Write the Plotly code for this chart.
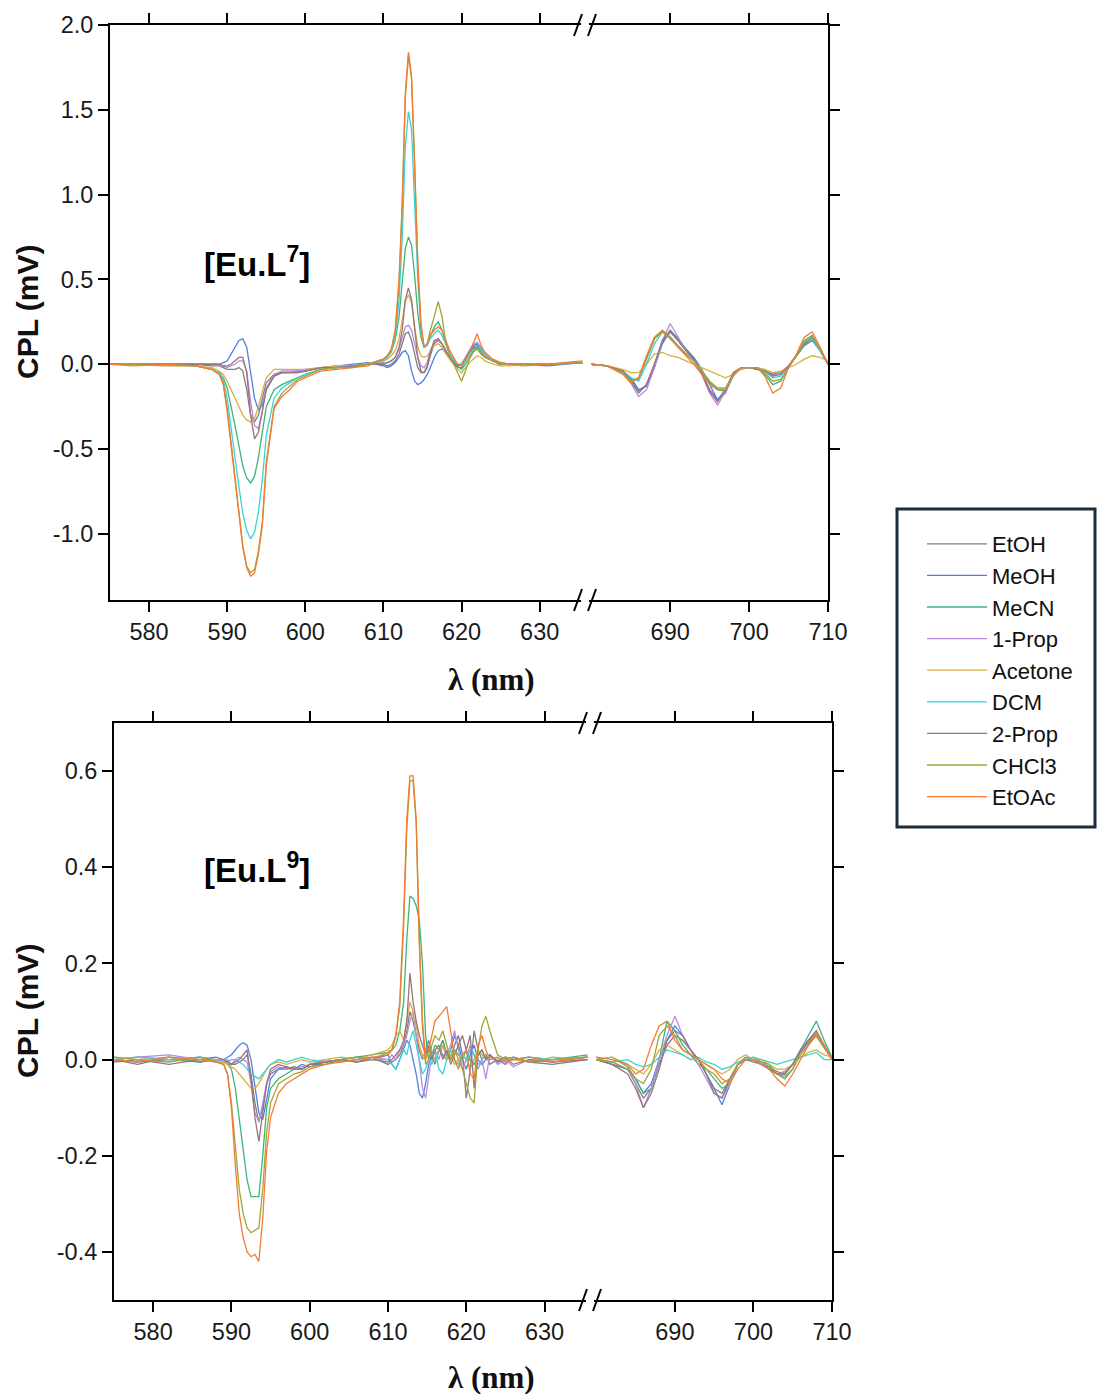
import plotly.graph_objects as go

# ---------------------------------------------------------------------------
# Wavelength grids (nm): 5D0->7F1 / 7F2 region and 5D0->7F4 region
# ---------------------------------------------------------------------------
wl_vis = [575, 578, 582, 586, 588, 589, 589.5, 590, 590.5, 591,
          591.5, 592, 592.5, 593, 593.5, 594, 594.5, 595, 596, 597,
          598, 599, 600, 602, 604, 606, 608, 610, 610.5, 611,
          611.5, 612, 612.4, 612.8, 613.2, 613.6, 614, 614.4, 614.8, 615.2,
          615.6, 616, 616.5, 617, 617.5, 618, 618.5, 619, 619.5, 620,
          620.5, 621, 621.5, 622, 622.5, 623, 624, 625, 626, 628,
          631, 635.5]
wl_red = [680, 682, 684, 685, 686, 687, 688, 689, 690, 691,
          692, 693, 694, 695, 696, 697, 698, 699, 700, 701,
          702, 703, 704, 705, 706, 707, 708, 709, 710]

solvents = ["EtOH", "MeOH", "MeCN", "1-Prop", "Acetone", "DCM", "2-Prop", "CHCl3", "EtOAc"]
colors = ["#7f7f7f", "#4f81e0", "#3cb47a", "#b98ae0", "#d9b040",
          "#3dd2d6", "#9b7378", "#a3a533", "#f57b35"]

# ---------------------------------------------------------------------------
# [Eu.L7] CPL (mV)
# ---------------------------------------------------------------------------
L7_EtOH_vis = [0.0, 0.0, 0.0, 0.0, -0.01, -0.01, -0.02, -0.03, -0.03, -0.03,
               -0.02, -0.04, -0.15, -0.3, -0.34, -0.3, -0.2, -0.11, -0.06, -0.05,
               -0.05, -0.05, -0.04, -0.02, -0.02, -0.01, 0.0, 0.0, -0.01, 0.0,
               0.02, 0.06, 0.12, 0.18, 0.19, 0.14, 0.06, -0.02, -0.05, -0.05,
               -0.02, 0.05, 0.12, 0.14, 0.12, 0.08, 0.04, 0.01, -0.02, -0.02,
               0.02, 0.06, 0.1, 0.11, 0.08, 0.05, 0.02, 0.0, 0.0, 0.0,
               0.0, 0.01]
L7_MeOH_vis = [0.0, 0.0, 0.0, 0.0, 0.0, 0.0, 0.01, 0.02, 0.06, 0.1,
               0.14, 0.15, 0.1, -0.05, -0.2, -0.27, -0.24, -0.15, -0.07, -0.05,
               -0.05, -0.04, -0.04, -0.02, -0.01, 0.0, 0.01, -0.01, -0.02, -0.01,
               0.01, 0.04, 0.07, 0.08, 0.05, -0.04, -0.1, -0.12, -0.11, -0.09,
               -0.06, -0.02, 0.04, 0.08, 0.09, 0.07, 0.04, 0.01, -0.01, 0.0,
               0.04, 0.08, 0.11, 0.12, 0.09, 0.05, 0.02, 0.0, 0.0, 0.0,
               -0.01, 0.01]
L7_MeCN_vis = [0.0, 0.0, 0.0, -0.01, -0.03, -0.05, -0.08, -0.14, -0.24, -0.36,
               -0.48, -0.6, -0.67, -0.7, -0.66, -0.55, -0.4, -0.25, -0.15, -0.12,
               -0.1, -0.08, -0.06, -0.03, -0.02, -0.01, 0.0, 0.03, 0.05, 0.08,
               0.14, 0.28, 0.46, 0.68, 0.75, 0.7, 0.52, 0.3, 0.16, 0.1,
               0.12, 0.17, 0.22, 0.25, 0.2, 0.12, 0.06, 0.02, -0.01, -0.03,
               0.0, 0.04, 0.08, 0.1, 0.08, 0.05, 0.02, 0.01, 0.0, 0.0,
               0.0, 0.01]
L7_1Prop_vis = [0.0, 0.0, 0.0, 0.0, 0.0, -0.01, -0.01, -0.02, -0.01, 0.0,
                0.02, 0.02, -0.04, -0.22, -0.36, -0.38, -0.28, -0.14, -0.06, -0.04,
                -0.04, -0.04, -0.03, -0.02, -0.01, -0.01, 0.0, 0.01, 0.01, 0.02,
                0.04, 0.09, 0.16, 0.22, 0.23, 0.2, 0.12, 0.04, -0.01, -0.02,
                0.01, 0.08, 0.13, 0.15, 0.12, 0.07, 0.03, 0.0, -0.01, 0.0,
                0.04, 0.08, 0.12, 0.13, 0.1, 0.06, 0.02, 0.0, 0.0, 0.0,
                0.0, 0.01]
L7_Acetone_vis = [0.0, 0.0, 0.0, -0.01, -0.02, -0.04, -0.06, -0.1, -0.15, -0.2,
                  -0.25, -0.3, -0.33, -0.34, -0.32, -0.25, -0.16, -0.08, -0.03, -0.03,
                  -0.03, -0.03, -0.03, -0.02, -0.01, -0.01, 0.0, 0.02, 0.03, 0.05,
                  0.08, 0.15, 0.25, 0.37, 0.41, 0.36, 0.22, 0.1, 0.05, 0.04,
                  0.05, 0.08, 0.11, 0.12, 0.1, 0.06, 0.03, 0.0, -0.03, -0.05,
                  -0.02, 0.01, 0.03, 0.05, 0.04, 0.02, 0.0, -0.01, -0.01, 0.0,
                  0.0, 0.01]
L7_DCM_vis = [0.0, 0.0, 0.0, -0.01, -0.03, -0.05, -0.09, -0.2, -0.36, -0.55,
              -0.72, -0.88, -0.98, -1.03, -0.99, -0.87, -0.68, -0.42, -0.2, -0.14,
              -0.11, -0.08, -0.06, -0.03, -0.02, -0.01, 0.0, 0.02, 0.04, 0.07,
              0.15, 0.38, 0.74, 1.28, 1.49, 1.38, 0.98, 0.5, 0.2, 0.1,
              0.11, 0.15, 0.18, 0.2, 0.17, 0.11, 0.06, 0.03, 0.0, -0.01,
              0.02, 0.06, 0.09, 0.11, 0.09, 0.05, 0.02, 0.01, 0.0, 0.0,
              0.0, 0.01]
L7_2Prop_vis = [0.0, 0.0, 0.0, 0.0, 0.0, 0.0, -0.01, -0.01, 0.0, 0.02,
                0.04, 0.04, -0.05, -0.3, -0.44, -0.4, -0.28, -0.15, -0.07, -0.05,
                -0.05, -0.05, -0.04, -0.02, -0.02, -0.01, 0.0, 0.01, 0.01, 0.02,
                0.04, 0.1, 0.2, 0.38, 0.45, 0.38, 0.2, 0.04, -0.04, -0.05,
                -0.01, 0.07, 0.14, 0.15, 0.12, 0.08, 0.04, 0.0, -0.01, 0.0,
                0.03, 0.07, 0.1, 0.09, 0.06, 0.04, 0.02, 0.0, 0.0, 0.0,
                0.0, 0.01]
L7_CHCl3_vis = [0.0, 0.0, -0.01, -0.01, -0.03, -0.06, -0.11, -0.26, -0.46, -0.68,
                -0.87, -1.07, -1.19, -1.23, -1.21, -1.1, -0.93, -0.58, -0.25, -0.17,
                -0.13, -0.09, -0.07, -0.03, -0.02, -0.02, 0.0, 0.03, 0.05, 0.08,
                0.18, 0.48, 0.92, 1.57, 1.82, 1.68, 1.18, 0.58, 0.22, 0.1,
                0.12, 0.2, 0.28, 0.37, 0.28, 0.12, 0.05, 0.0, -0.05, -0.1,
                -0.04, 0.03, 0.07, 0.09, 0.07, 0.04, 0.02, 0.0, 0.0, 0.0,
                0.0, 0.01]
L7_EtOAc_vis = [0.0, -0.01, 0.0, -0.01, -0.03, -0.06, -0.12, -0.28, -0.48, -0.7,
                -0.88, -1.08, -1.2, -1.25, -1.23, -1.12, -0.95, -0.6, -0.26, -0.19,
                -0.15, -0.1, -0.08, -0.04, -0.03, -0.02, -0.01, 0.03, 0.05, 0.09,
                0.2, 0.5, 0.95, 1.6, 1.84, 1.7, 1.2, 0.6, 0.25, 0.1,
                0.12, 0.17, 0.2, 0.22, 0.2, 0.14, 0.08, 0.04, 0.0, 0.0,
                0.03, 0.07, 0.12, 0.18, 0.11, 0.07, 0.03, 0.01, 0.0, -0.01,
                0.0, 0.02]

L7_EtOH_red = [0.0, -0.01, -0.04, -0.09, -0.16, -0.12, 0.0, 0.13, 0.19, 0.14,
               0.08, 0.03, -0.05, -0.15, -0.21, -0.15, -0.05, -0.02, -0.02, -0.03,
               -0.04, -0.06, -0.05, -0.01, 0.05, 0.12, 0.15, 0.08, 0.0]
L7_MeOH_red = [0.0, -0.01, -0.04, -0.08, -0.15, -0.13, -0.02, 0.12, 0.2, 0.15,
               0.09, 0.04, -0.03, -0.12, -0.21, -0.17, -0.06, -0.02, -0.02, -0.02,
               -0.04, -0.06, -0.05, -0.01, 0.05, 0.11, 0.14, 0.08, 0.0]
L7_MeCN_red = [0.0, -0.01, -0.05, -0.1, -0.09, 0.03, 0.15, 0.2, 0.16, 0.11,
               0.06, 0.02, -0.05, -0.11, -0.15, -0.16, -0.07, -0.02, -0.02, -0.02,
               -0.06, -0.12, -0.1, -0.02, 0.05, 0.14, 0.17, 0.09, 0.0]
L7_1Prop_red = [0.0, -0.01, -0.05, -0.11, -0.19, -0.15, -0.02, 0.14, 0.24, 0.16,
                0.08, 0.02, -0.06, -0.17, -0.24, -0.16, -0.05, -0.02, -0.02, -0.03,
                -0.04, -0.07, -0.05, -0.01, 0.05, 0.12, 0.16, 0.09, 0.0]
L7_Acetone_red = [0.0, -0.01, -0.03, -0.05, -0.05, 0.0, 0.06, 0.07, 0.05, 0.04,
                  0.02, 0.0, -0.02, -0.04, -0.06, -0.08, -0.06, -0.03, -0.02, -0.02,
                  -0.03, -0.05, -0.04, -0.02, 0.0, 0.03, 0.05, 0.04, 0.02]
L7_DCM_red = [0.0, -0.01, -0.04, -0.08, -0.1, 0.0, 0.12, 0.19, 0.16, 0.11,
              0.06, 0.02, -0.04, -0.1, -0.15, -0.15, -0.06, -0.02, -0.02, -0.02,
              -0.04, -0.08, -0.07, -0.01, 0.05, 0.12, 0.15, 0.08, 0.0]
L7_2Prop_red = [0.0, -0.01, -0.04, -0.1, -0.17, -0.12, 0.0, 0.14, 0.2, 0.14,
                0.08, 0.03, -0.05, -0.16, -0.22, -0.15, -0.05, -0.02, -0.02, -0.03,
                -0.04, -0.07, -0.06, -0.01, 0.05, 0.12, 0.16, 0.09, 0.0]
L7_CHCl3_red = [0.0, -0.01, -0.05, -0.1, -0.08, 0.04, 0.15, 0.19, 0.15, 0.1,
                0.06, 0.02, -0.04, -0.1, -0.14, -0.14, -0.06, -0.02, -0.02, -0.02,
                -0.05, -0.1, -0.09, -0.02, 0.05, 0.13, 0.16, 0.09, 0.0]
L7_EtOAc_red = [0.0, -0.01, -0.06, -0.11, -0.08, 0.05, 0.16, 0.2, 0.16, 0.1,
                0.05, 0.0, -0.06, -0.12, -0.15, -0.15, -0.06, -0.02, -0.02, -0.02,
                -0.07, -0.17, -0.14, -0.02, 0.06, 0.16, 0.19, 0.1, 0.0]

# ---------------------------------------------------------------------------
# [Eu.L9] CPL (mV)
# ---------------------------------------------------------------------------
L9_EtOH_vis = [0.0, -0.01, 0.005, -0.005, 0.0, 0.0, -0.01, -0.01, -0.01, -0.005,
               0.0, 0.01, -0.03, -0.09, -0.13, -0.1, -0.05, -0.03, -0.02, -0.02,
               -0.015, -0.02, -0.01, -0.01, 0.0, -0.005, 0.005, -0.01, -0.005, 0.0,
               0.01, 0.03, 0.06, 0.1, 0.08, 0.05, 0.02, 0.0, 0.02, 0.04,
               0.01, -0.01, 0.02, 0.04, 0.01, 0.0, 0.03, 0.05, 0.01, -0.08,
               -0.02, 0.06, 0.02, 0.0, 0.01, -0.01, 0.0, -0.01, 0.005, -0.005,
               -0.01, 0.0]
L9_MeOH_vis = [0.0, -0.005, 0.0, 0.005, 0.0, 0.0, 0.005, 0.01, 0.02, 0.03,
               0.035, 0.03, 0.0, -0.06, -0.11, -0.125, -0.08, -0.04, -0.02, -0.015,
               -0.02, -0.01, -0.015, -0.005, 0.0, 0.005, 0.0, 0.01, -0.01, -0.02,
               0.0, 0.02, 0.04, 0.03, 0.0, -0.03, -0.07, -0.08, -0.05, -0.01,
               0.01, 0.0, 0.02, 0.01, 0.0, 0.02, 0.05, 0.03, 0.0, -0.02,
               0.01, 0.03, 0.0, -0.01, 0.0, 0.01, -0.005, 0.0, 0.005, -0.005,
               0.0, 0.005]
L9_MeCN_vis = [0.0, 0.005, 0.0, -0.005, 0.0, -0.005, -0.01, -0.02, -0.06, -0.12,
               -0.18, -0.25, -0.285, -0.285, -0.285, -0.2, -0.1, -0.06, -0.04, -0.03,
               -0.02, -0.02, -0.01, -0.005, 0.0, 0.005, 0.01, 0.015, 0.02, 0.03,
               0.06, 0.12, 0.25, 0.34, 0.335, 0.32, 0.29, 0.2, 0.05, 0.0,
               0.01, 0.03, 0.02, 0.04, 0.01, 0.0, 0.02, 0.01, 0.0, 0.02,
               0.0, -0.01, 0.01, 0.02, 0.0, 0.01, -0.005, 0.005, 0.0, 0.005,
               0.0, 0.01]
L9_1Prop_vis = [0.0, 0.005, 0.01, 0.0, 0.0, -0.005, 0.0, -0.01, 0.0, 0.005,
                0.0, -0.005, -0.05, -0.11, -0.13, -0.09, -0.05, -0.025, -0.015, -0.02,
                -0.02, -0.015, -0.01, 0.0, -0.005, 0.0, 0.005, 0.0, 0.01, 0.0,
                0.02, 0.03, 0.05, 0.08, 0.1, 0.05, 0.0, -0.06, -0.08, -0.03,
                0.01, 0.02, 0.0, 0.03, 0.01, 0.03, 0.06, 0.02, -0.02, 0.0,
                0.03, 0.01, -0.02, 0.0, -0.04, 0.01, -0.01, 0.0, -0.015, 0.0,
                -0.005, 0.005]
L9_Acetone_vis = [0.005, 0.0, 0.005, 0.0, -0.005, -0.005, -0.01, -0.015, -0.02, -0.03,
                  -0.04, -0.05, -0.06, -0.06, -0.05, -0.035, -0.02, -0.01, -0.005, -0.01,
                  -0.005, 0.0, -0.005, 0.0, 0.005, 0.0, 0.01, 0.02, 0.03, 0.05,
                  0.06, 0.04, 0.08, 0.12, 0.1, 0.07, 0.03, 0.01, 0.0, 0.02,
                  0.01, 0.0, 0.02, 0.03, 0.0, 0.01, -0.01, 0.0, 0.01, 0.0,
                  -0.02, 0.0, 0.02, 0.01, 0.0, 0.005, 0.0, 0.005, 0.0, -0.005,
                  0.005, 0.0]
L9_DCM_vis = [0.0, 0.005, 0.0, 0.005, 0.0, 0.0, -0.005, 0.0, 0.0, -0.005,
              -0.01, -0.02, -0.03, -0.035, -0.04, -0.03, -0.02, -0.01, 0.0, -0.005,
              0.0, 0.005, 0.0, -0.005, 0.0, 0.005, 0.0, 0.0, -0.01, -0.02,
              0.0, 0.02, 0.01, 0.04, 0.06, 0.03, 0.0, -0.03, -0.02, 0.0,
              -0.01, 0.02, -0.02, -0.03, 0.0, 0.02, 0.0, -0.01, 0.01, 0.0,
              0.02, 0.01, -0.01, 0.0, 0.01, 0.0, 0.005, -0.005, 0.0, 0.005,
              0.0, 0.005]
L9_2Prop_vis = [-0.005, 0.0, -0.01, 0.0, 0.005, 0.0, -0.005, -0.01, -0.005, 0.0,
                0.01, 0.02, -0.04, -0.12, -0.17, -0.11, -0.05, -0.02, -0.01, -0.015,
                -0.02, -0.02, -0.01, -0.005, 0.0, -0.005, 0.0, -0.005, 0.0, 0.01,
                0.02, 0.04, 0.08, 0.18, 0.12, 0.08, 0.05, 0.03, 0.01, 0.03,
                0.0, 0.02, 0.03, 0.0, 0.02, -0.01, 0.01, 0.03, 0.05, 0.02,
                0.05, -0.06, 0.01, 0.02, 0.0, 0.01, -0.005, 0.005, -0.01, 0.0,
                -0.005, 0.0]
L9_CHCl3_vis = [0.005, 0.0, -0.005, 0.005, -0.005, -0.01, -0.03, -0.09, -0.18, -0.27,
                -0.32, -0.35, -0.36, -0.355, -0.35, -0.27, -0.15, -0.09, -0.05, -0.04,
                -0.03, -0.025, -0.015, -0.01, 0.0, 0.005, 0.0, 0.015, 0.02, 0.05,
                0.11, 0.28, 0.48, 0.58, 0.58, 0.49, 0.24, 0.07, -0.01, 0.0,
                0.03, 0.05, 0.04, 0.06, 0.03, 0.0, 0.02, 0.0, -0.02, -0.05,
                -0.08, -0.09, 0.02, 0.07, 0.09, 0.06, 0.01, 0.0, 0.005, -0.005,
                0.0, 0.005]
L9_EtOAc_vis = [0.0, -0.005, 0.005, 0.0, -0.005, -0.01, -0.03, -0.1, -0.22, -0.32,
                -0.37, -0.4, -0.41, -0.405, -0.42, -0.33, -0.19, -0.12, -0.07, -0.05,
                -0.04, -0.03, -0.02, -0.01, -0.005, 0.0, 0.005, 0.01, 0.02, 0.05,
                0.12, 0.3, 0.5, 0.59, 0.59, 0.5, 0.25, 0.08, 0.0, 0.02,
                0.05, 0.08, 0.09, 0.1, 0.11, 0.06, 0.0, -0.02, 0.01, 0.02,
                -0.03, -0.04, 0.03, 0.05, 0.02, 0.0, 0.005, -0.005, 0.0, 0.005,
                -0.005, 0.005]

L9_EtOH_red = [0.005, -0.01, -0.02, -0.05, -0.08, -0.06, -0.01, 0.03, 0.05, 0.04,
               0.02, 0.0, -0.03, -0.06, -0.07, -0.04, -0.01, 0.005, 0.0, -0.01,
               -0.015, -0.025, -0.03, -0.01, 0.015, 0.035, 0.05, 0.025, 0.0]
L9_MeOH_red = [0.0, -0.01, -0.02, -0.04, -0.07, -0.05, 0.0, 0.04, 0.07, 0.05,
               0.02, 0.0, -0.03, -0.06, -0.094, -0.05, -0.01, 0.0, 0.0, -0.01,
               -0.02, -0.03, -0.025, -0.01, 0.02, 0.04, 0.05, 0.03, 0.0]
L9_MeCN_red = [0.0, 0.005, -0.015, -0.04, -0.07, -0.06, 0.0, 0.08, 0.06, 0.03,
               0.01, -0.01, -0.02, -0.04, -0.06, -0.05, -0.01, 0.0, 0.005, -0.005,
               -0.015, -0.03, -0.04, -0.02, 0.02, 0.05, 0.08, 0.04, 0.005]
L9_1Prop_red = [0.0, -0.005, -0.02, -0.05, -0.1, -0.06, 0.0, 0.05, 0.09, 0.05,
                0.02, -0.01, -0.04, -0.07, -0.08, -0.05, -0.01, 0.0, 0.0, -0.005,
                -0.02, -0.03, -0.025, -0.01, 0.02, 0.04, 0.055, 0.03, 0.0]
L9_Acetone_red = [0.0, 0.005, -0.01, -0.02, -0.03, -0.01, 0.02, 0.03, 0.02, 0.01,
                  0.0, 0.0, -0.01, -0.02, -0.03, -0.02, 0.0, 0.01, 0.0, 0.0,
                  -0.01, -0.02, -0.02, -0.01, 0.005, 0.015, 0.02, 0.01, 0.005]
L9_DCM_red = [0.0, -0.005, 0.0, -0.01, -0.015, -0.01, 0.005, 0.02, 0.015, 0.01,
              0.0, 0.005, -0.005, -0.01, -0.02, -0.015, -0.005, 0.0, 0.005, 0.0,
              -0.005, -0.01, -0.005, 0.0, 0.005, 0.01, 0.015, 0.0, 0.0]
L9_2Prop_red = [0.0, -0.01, -0.03, -0.06, -0.1, -0.07, -0.02, 0.04, 0.06, 0.05,
                0.02, 0.0, -0.03, -0.07, -0.08, -0.04, -0.01, 0.0, -0.005, -0.01,
                -0.02, -0.03, -0.03, -0.01, 0.02, 0.04, 0.06, 0.03, 0.0]
L9_CHCl3_red = [0.0, -0.005, -0.02, -0.04, -0.05, -0.02, 0.05, 0.07, 0.05, 0.02,
                0.01, 0.0, -0.02, -0.03, -0.05, -0.04, -0.01, 0.0, 0.0, -0.005,
                -0.01, -0.03, -0.035, -0.02, 0.01, 0.03, 0.05, 0.025, 0.005]
L9_EtOAc_red = [0.005, 0.0, -0.01, -0.03, -0.02, 0.03, 0.07, 0.08, 0.04, 0.02,
                0.01, 0.0, -0.01, -0.02, -0.04, -0.05, -0.02, 0.0, 0.0, -0.01,
                -0.02, -0.04, -0.055, -0.03, 0.0, 0.03, 0.055, 0.03, 0.0]

L7_vis = [L7_EtOH_vis, L7_MeOH_vis, L7_MeCN_vis, L7_1Prop_vis, L7_Acetone_vis,
          L7_DCM_vis, L7_2Prop_vis, L7_CHCl3_vis, L7_EtOAc_vis]
L7_red = [L7_EtOH_red, L7_MeOH_red, L7_MeCN_red, L7_1Prop_red, L7_Acetone_red,
          L7_DCM_red, L7_2Prop_red, L7_CHCl3_red, L7_EtOAc_red]
L9_vis = [L9_EtOH_vis, L9_MeOH_vis, L9_MeCN_vis, L9_1Prop_vis, L9_Acetone_vis,
          L9_DCM_vis, L9_2Prop_vis, L9_CHCl3_vis, L9_EtOAc_vis]
L9_red = [L9_EtOH_red, L9_MeOH_red, L9_MeCN_red, L9_1Prop_red, L9_Acetone_red,
          L9_DCM_red, L9_2Prop_red, L9_CHCl3_red, L9_EtOAc_red]

# tick values / labels
x_ticks_vis = [580, 590, 600, 610, 620, 630]
x_ticks_red = [690, 700, 710]
y7_ticks = [-1.0, -0.5, 0.0, 0.5, 1.0, 1.5, 2.0]
y7_labels = ["-1.0", "-0.5", "0.0", "0.5", "1.0", "1.5", "2.0"]
y9_ticks = [-0.4, -0.2, 0.0, 0.2, 0.4, 0.6]
y9_labels = ["-0.4", "-0.2", "0.0", "0.2", "0.4", "0.6"]

# ---------------------------------------------------------------------------
# Figure geometry (pixels on a 1100 x 1394 canvas)
# ---------------------------------------------------------------------------
W, H = 1100, 1394
def px(x):
    return x / W
def py(y):
    return 1 - y / H

panels = [
    # axis ids, pixel box (left, break, right, top, bottom), data, y ticks
    dict(xa="x", xb="x2", ya="y", yb="y2", box=(110, 585, 828, 25, 600),
         vis=L7_vis, red=L7_red, yr=[-1.39, 2.0], yt=y7_ticks, yl=y7_labels,
         label="<b>[Eu.L<sup>7</sup>]</b>", lab_xy=(257, 262), title_y=679, ytitle_y=312),
    dict(xa="x3", xb="x4", ya="y3", yb="y4", box=(114, 590, 832, 723, 1300),
         vis=L9_vis, red=L9_red, yr=[-0.5, 0.7], yt=y9_ticks, yl=y9_labels,
         label="<b>[Eu.L<sup>9</sup>]</b>", lab_xy=(257, 868), title_y=1377, ytitle_y=1011),
]

X_VIS_RANGE = [575, 635.8]
X_RED_RANGE = [679.2, 710]

SANS = "Liberation Sans, Arial, sans-serif"
tick_font = dict(family=SANS, size=23.5, color="#1a1a1a")
axis_common = dict(showgrid=False, zeroline=False, showline=True, linecolor="black",
                   linewidth=2, ticks="outside", ticklen=10, tickwidth=2,
                   tickcolor="black", tickfont=tick_font, automargin=False)

fig = go.Figure()
layout = dict(width=W, height=H,
              margin=dict(l=0, r=0, t=0, b=0, pad=0, autoexpand=False),
              plot_bgcolor="white", paper_bgcolor="white")
shapes = []
annotations = []

for k, p in enumerate(panels):
    xl, xbk, xr, yt, yb = p["box"]
    # spectra: visible segment and red segment
    for i, name in enumerate(solvents):
        fig.add_trace(go.Scatter(
            x=wl_vis, y=p["vis"][i], xaxis=p["xa"], yaxis=p["ya"], mode="lines",
            line=dict(color=colors[i], width=1.3), name=name,
            showlegend=(k == 0)))
        fig.add_trace(go.Scatter(
            x=wl_red, y=p["red"][i], xaxis=p["xb"], yaxis=p["yb"], mode="lines",
            line=dict(color=colors[i], width=1.3), name=name, showlegend=False))

    xa_key = "xaxis" + p["xa"][1:]
    xb_key = "xaxis" + p["xb"][1:]
    ya_key = "yaxis" + p["ya"][1:]
    yb_key = "yaxis" + p["yb"][1:]
    ydom = [py(yb), py(yt)]
    layout[xa_key] = dict(axis_common, domain=[px(xl), px(xbk)], range=X_VIS_RANGE,
                          anchor=p["ya"], tickvals=x_ticks_vis, mirror="ticks")
    layout[xb_key] = dict(axis_common, domain=[px(xbk), px(xr)], range=X_RED_RANGE,
                          anchor=p["yb"], tickvals=x_ticks_red, mirror="ticks")
    layout[ya_key] = dict(axis_common, domain=ydom, range=p["yr"], anchor=p["xa"],
                          tickvals=p["yt"], ticktext=p["yl"])
    layout[yb_key] = dict(axis_common, domain=ydom, range=p["yr"], anchor=p["xb"],
                          side="right", tickvals=p["yt"], showticklabels=False)

    # axis-break marks on top and bottom frame lines
    for yy in (yt, yb):
        shapes.append(dict(type="rect", xref="paper", yref="paper",
                           x0=px(xbk - 4), x1=px(xbk + 4), y0=py(yy + 2), y1=py(yy - 2),
                           fillcolor="white", line=dict(width=0), layer="above"))
        for dx in (-7, 7):
            shapes.append(dict(type="line", xref="paper", yref="paper",
                               x0=px(xbk + dx - 4), y0=py(yy + 11),
                               x1=px(xbk + dx + 4), y1=py(yy - 11),
                               line=dict(color="black", width=2), layer="above"))

    annotations.append(dict(text=p["label"], xref="paper", yref="paper",
                            x=px(p["lab_xy"][0]), y=py(p["lab_xy"][1]),
                            showarrow=False, xanchor="center", yanchor="middle",
                            font=dict(family=SANS, size=33, color="black")))
    annotations.append(dict(text="<b>λ (nm)</b>", xref="paper", yref="paper",
                            x=px(491), y=py(p["title_y"]), showarrow=False,
                            xanchor="center", yanchor="middle",
                            font=dict(family="Liberation Serif, Times New Roman, serif",
                                      size=31, color="#111")))
    annotations.append(dict(text="<b>CPL (mV)</b>", xref="paper", yref="paper",
                            x=px(27), y=py(p["ytitle_y"]), showarrow=False,
                            textangle=-90, xanchor="center", yanchor="middle",
                            font=dict(family=SANS, size=30, color="#111")))

# legend frame
shapes.append(dict(type="rect", xref="paper", yref="paper",
                   x0=px(897), x1=px(1095), y0=py(827), y1=py(509),
                   line=dict(color="#1b2b3a", width=3), fillcolor="rgba(0,0,0,0)"))

layout["shapes"] = shapes
layout["annotations"] = annotations
layout["legend"] = dict(x=px(922), y=py(523), xanchor="left", yanchor="top",
                        bgcolor="rgba(0,0,0,0)", borderwidth=0, itemwidth=60,
                        font=dict(family=SANS, size=22, color="#111"))
layout["showlegend"] = True
fig.update_layout(**layout)

fig.write_html("out.html")
